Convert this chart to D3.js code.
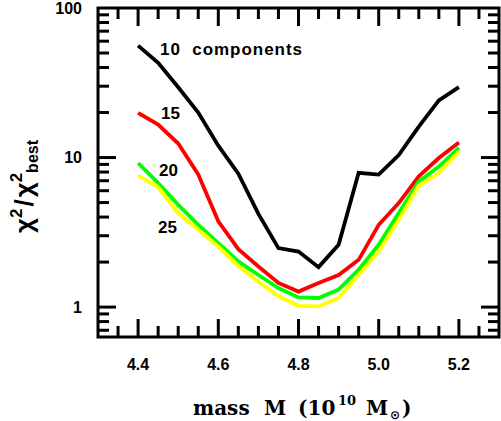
<!DOCTYPE html>
<html>
<head>
<meta charset="utf-8">
<script src="https://cdn.jsdelivr.net/npm/d3@7"></script>
<style>
  html, body { margin: 0; padding: 0; background: #fff; }
  svg { display: block; }
</style>
</head>
<body>
<svg id="chart" width="501" height="421"></svg>
<script>
// ---- data ----
const mass = [4.40, 4.45, 4.50, 4.55, 4.60, 4.65, 4.70, 4.75, 4.80, 4.85, 4.90, 4.95, 5.00, 5.05, 5.10, 5.15, 5.20];
const comp10 = [56, 43, 29.5, 20, 12, 7.8, 4.2, 2.48, 2.35, 1.85, 2.61, 7.9, 7.7, 10.4, 16.1, 24.1, 29.6];
const comp15 = [19.9, 16.6, 12.4, 7.7, 3.75, 2.44, 1.87, 1.45, 1.27, 1.45, 1.64, 2.07, 3.55, 4.96, 7.48, 9.93, 12.6];
const comp20 = [9.19, 6.75, 4.83, 3.55, 2.68, 2.02, 1.64, 1.34, 1.16, 1.15, 1.31, 1.78, 2.61, 4.25, 6.9, 8.7, 11.6];
const comp25 = [7.56, 6.35, 4.25, 3.3, 2.54, 1.89, 1.48, 1.18, 1.02, 1.01, 1.15, 1.64, 2.35, 3.84, 6.5, 7.88, 11.0];
const seriesNames = ["10 components", "15", "20", "25"];
const seriesColors = ["#000000", "#ff0000", "#00ff00", "#ffff00"];
const xMajor = [4.4, 4.6, 4.8, 5.0, 5.2];
const xMinor = [4.35, 4.45, 4.5, 4.55, 4.65, 4.7, 4.75, 4.85, 4.9, 4.95, 5.05, 5.1, 5.15, 5.25];
const yMajor = [1, 10, 100];
const yMinor = [0.7, 0.8, 0.9, 2, 3, 4, 5, 6, 7, 8, 9, 20, 30, 40, 50, 60, 70, 80, 90];

// ---- layout ----
const svg = d3.select("#chart");
const x = d3.scaleLinear().domain([4.3, 5.3]).range([98, 499]);
const y = d3.scaleLog().domain([Math.pow(10, -0.2), 100]).range([337, 8]);
const X0 = 98, X1 = 499, Y0 = 337, Y1 = 8;
const tickFont = "'Liberation Sans', Arial, Helvetica, sans-serif";
const MAJ = 18, MIN = 11, TW = 3;

// frame
svg.append("rect").attr("x", X0).attr("y", Y1).attr("width", X1 - X0).attr("height", Y0 - Y1)
  .attr("fill", "none").attr("stroke", "#000").attr("stroke-width", 3);

// ticks (inward on all four sides)
const xTickData = xMajor.map(v => ({ v: v, len: MAJ })).concat(xMinor.map(v => ({ v: v, len: MIN })));
const yTickData = yMajor.filter(v => v < 100).map(v => ({ v: v, len: MAJ }))
  .concat(yMinor.map(v => ({ v: v, len: MIN })));
const tg = svg.append("g");
tg.selectAll("line.xb").data(xTickData).join("line").attr("class", "xb")
  .attr("x1", d => x(d.v)).attr("x2", d => x(d.v)).attr("y1", Y0).attr("y2", d => Y0 - d.len)
  .attr("stroke", "#000").attr("stroke-width", TW);
tg.selectAll("line.xt").data(xTickData).join("line").attr("class", "xt")
  .attr("x1", d => x(d.v)).attr("x2", d => x(d.v)).attr("y1", Y1).attr("y2", d => Y1 + d.len)
  .attr("stroke", "#000").attr("stroke-width", TW);
tg.selectAll("line.yl").data(yTickData).join("line").attr("class", "yl")
  .attr("y1", d => y(d.v)).attr("y2", d => y(d.v)).attr("x1", X0).attr("x2", d => X0 + d.len)
  .attr("stroke", "#000").attr("stroke-width", TW);
tg.selectAll("line.yr").data(yTickData).join("line").attr("class", "yr")
  .attr("y1", d => y(d.v)).attr("y2", d => y(d.v)).attr("x1", X1).attr("x2", d => X1 - d.len)
  .attr("stroke", "#000").attr("stroke-width", TW);

// tick labels
svg.append("g").selectAll("text").data(xMajor).join("text")
  .attr("x", d => x(d)).attr("y", 370).attr("text-anchor", "middle")
  .attr("font-family", tickFont).attr("font-weight", "bold").attr("font-size", 16)
  .text(d3.format(".1f"));
svg.append("g").selectAll("text").data(yMajor).join("text")
  .attr("x", 82).attr("y", d => y(d)).attr("dy", "0.36em").attr("text-anchor", "end")
  .attr("font-family", tickFont).attr("font-weight", "bold").attr("font-size", 16)
  .text(d3.format("d"));

// curves
const series = [comp10, comp15, comp20, comp25];
const line = d3.line().x((d, i) => x(mass[i])).y(d => y(d));
svg.append("g").selectAll("path").data(series).join("path")
  .attr("d", d => line(d))
  .attr("fill", "none")
  .attr("stroke", (d, i) => seriesColors[i])
  .attr("stroke-width", 3.8)
  .attr("stroke-linejoin", "miter");

// series labels
const labelPos = [[160, 55, 142], [161, 119, 0], [159, 176, 0], [158, 233, 0]];
seriesNames.forEach((name, i) => {
  const t = svg.append("text").attr("x", labelPos[i][0]).attr("y", labelPos[i][1])
    .attr("font-family", tickFont).attr("font-weight", "bold").attr("font-size", 17)
    .attr("fill", "#000").attr("xml:space", "preserve").text(name.replace(" ", "  "));
  if (labelPos[i][2]) t.attr("textLength", labelPos[i][2]).attr("lengthAdjust", "spacing");
});

// x axis label (pieces)
const serif = "'DejaVu Serif', 'Liberation Serif', serif";
const xPieces = [
  ["mass", 193, 415, 20, serif],
  ["M", 264, 415, 20, serif],
  ["(10", 298, 415, 20, serif],
  ["10", 338, 405, 13, serif],
  ["M", 366, 415, 20, serif],
  ["\u2299", 390, 419, 12, "'DejaVu Sans', sans-serif"],
  [")", 402, 415, 20, serif]
];
svg.append("g").selectAll("text").data(xPieces).join("text")
  .attr("x", d => d[1]).attr("y", d => d[2]).attr("font-size", d => d[3])
  .attr("font-family", d => d[4]).attr("font-weight", "bold").attr("fill", "#000")
  .text(d => d[0]);

// y axis label
const yl = svg.append("text").attr("transform", "translate(33,233) rotate(-90)")
  .attr("font-family", tickFont).attr("font-weight", "bold")
  .attr("font-size", 26).attr("fill", "#000");
yl.append("tspan").text("\u03c7");
yl.append("tspan").attr("dy", -11).attr("font-size", 17).text("2");
yl.append("tspan").attr("dy", 11).attr("dx", 2).text("/");
yl.append("tspan").attr("dx", 2).text("\u03c7");
yl.append("tspan").attr("dy", -11).attr("font-size", 17).text("2");
yl.append("tspan").attr("dy", 16).attr("font-size", 16).text("best");
</script>
</body>
</html>
